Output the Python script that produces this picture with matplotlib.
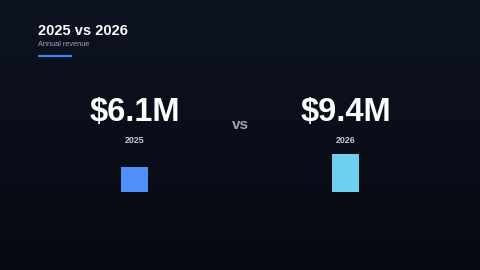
import numpy as np
import matplotlib
matplotlib.use("Agg")
import matplotlib.pyplot as plt
from matplotlib.colors import LinearSegmentedColormap

# Data
years = ["2025", "2026"]
revenue = [6.1, 9.4]  # $M
colors = ["#4f8ff7", "#6fcfef"]
title = "2025 vs 2026"
subtitle = "Annual revenue"

W, H = 480, 270
fig = plt.figure(figsize=(W / 100, H / 100), dpi=100)

# background gradient
bg = fig.add_axes([0, 0, 1, 1])
cmap = LinearSegmentedColormap.from_list("bg", ["#0e1322", "#070a12"])
bg.imshow(np.linspace(0, 1, 256).reshape(-1, 1), aspect="auto", cmap=cmap,
          extent=[0, W, H, 0])
bg.set_xlim(0, W)
bg.set_ylim(H, 0)
bg.axis("off")

# title block
bg.text(38, 31, title, color="white", fontsize=10.5, fontweight="bold",
        ha="left", va="center", family="Liberation Sans")
bg.text(38, 45, subtitle, color="#9aa3b8", fontsize=5.3,
        ha="left", va="center", family="Liberation Sans")
bg.plot([38, 72], [55.5, 55.5], color="#3b82f6", lw=1.6, solid_capstyle="butt")

# bar axes
px_per_m = 4.04
ymax = 10.0
ax_bottom = 1 - 192 / H
ax_h = ymax * px_per_m / H
ax = fig.add_axes([0, ax_bottom, 1, ax_h])
ax.set_xlim(0, W)
ax.set_ylim(0, ymax)
ax.axis("off")
centers = [134.5, 345.5]
ax.bar(centers, revenue, width=27, color=colors)

for cx, yr, v in zip(centers, years, revenue):
    bg.text(cx, 112, f"${v}M", color="white", fontsize=23.5, fontweight="bold",
            ha="center", va="center", family="Liberation Sans")
    bg.text(cx, 140.5, yr, color="#c3c8d4", fontsize=6.4, fontweight="bold",
            ha="center", va="center", family="Liberation Sans")

bg.text(240, 125, "vs", color="#9aa3b8", fontsize=11, fontweight="bold",
        ha="center", va="center", family="Liberation Sans")

fig.savefig("out.png", dpi=100, facecolor="#0b0f1b")
